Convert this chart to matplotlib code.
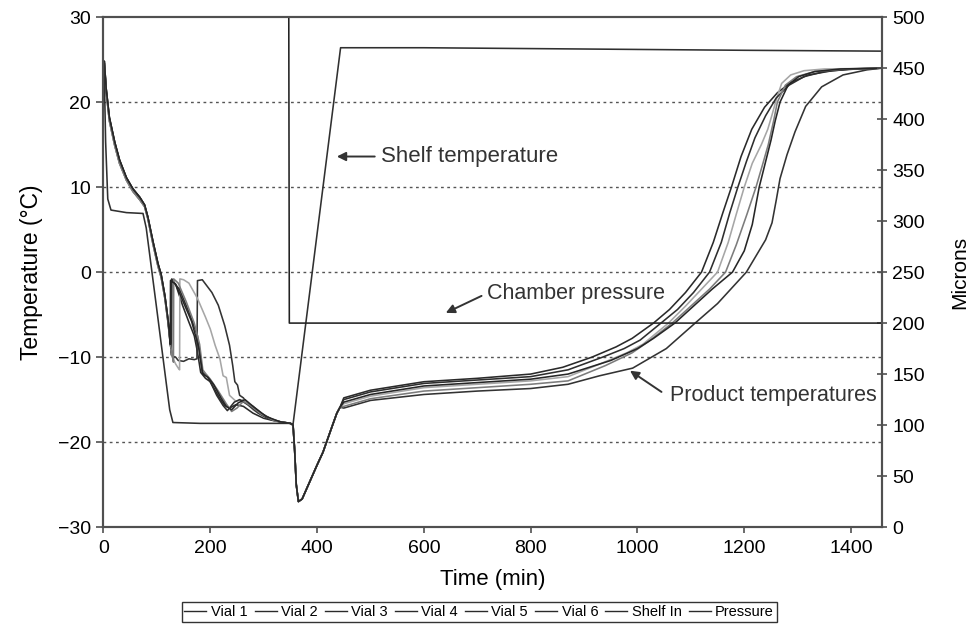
import matplotlib
matplotlib.use('Agg')
import matplotlib.pyplot as plt
import numpy as np

plt.rcParams['font.family'] = ['Liberation Sans', 'DejaVu Sans']

# cooling ramp, same for every vial (two slightly offset bundles)
cool_t = [0, 1.5, 5, 11, 21, 30, 43, 55, 68, 77, 83, 93, 102, 108, 115, 121]
cool_T_a = [23.8, 24.8, 21.6, 18.2, 15.3, 13.2, 11.1, 9.8, 8.8, 7.9, 6.5, 3.5, 1.0, -0.3, -2.8, -5.7]
cool_T_b = [23.6, 24.6, 21.2, 17.8, 14.9, 12.8, 10.8, 9.5, 8.5, 7.7, 6.3, 3.2, 0.7, -0.6, -3.1, -6.0]

# freezing (nucleation) per vial
v1_frz_t = [125, 127.5, 128, 136, 148, 160, 170, 176, 182, 191, 200, 209, 218, 227, 236, 248, 262, 280, 300, 320, 340]
v1_frz_T = [-8.2, -9.8, -0.8, -1.6, -3.9, -5.9, -7.5, -9.4, -11.8, -12.5, -12.9, -13.9, -14.9, -15.7, -16.0, -15.6, -15.8, -16.6, -17.2, -17.5, -17.7]
v2_frz_t = [125, 129, 135, 140, 150, 160, 170, 175, 176, 185, 191, 203, 215, 227, 236, 242, 246, 251, 255, 262, 268, 280, 295, 315, 335]
v2_frz_T = [-8.4, -9.9, -10.0, -10.4, -10.5, -10.2, -10.3, -10.2, -1.0, -0.9, -1.4, -2.4, -3.9, -6.3, -8.6, -11.0, -12.9, -13.3, -14.5, -14.8, -15.4, -15.8, -16.6, -17.3, -17.7]
v3_frz_t = [125, 129, 135, 140, 142.5, 143, 150, 160, 176, 191, 200, 209, 218, 224, 230, 236, 248, 262, 280, 300, 330]
v3_frz_T = [-8.5, -10.0, -10.8, -11.3, -11.5, -0.8, -0.9, -1.3, -3.1, -5.3, -6.7, -8.6, -10.2, -12.2, -12.4, -14.5, -15.2, -15.0, -16.2, -17.0, -17.6]
v4_frz_t = [125, 126.5, 127, 142, 160, 176, 185, 194, 203, 212, 224, 232, 245, 255, 270, 290, 310, 330]
v4_frz_T = [-8.2, -9.0, -0.9, -2.0, -4.7, -7.5, -11.8, -12.2, -13.3, -14.5, -15.7, -16.3, -15.3, -15.0, -15.6, -16.6, -17.3, -17.6]
v5_frz_t = [125, 129, 131, 131.5, 140, 155, 170, 180, 186, 192, 200, 215, 230, 240, 250, 262, 275, 295, 320]
v5_frz_T = [-8.4, -9.9, -10.6, -0.8, -1.3, -3.5, -6.0, -8.5, -11.5, -12.0, -12.6, -14.0, -15.5, -16.4, -16.0, -15.2, -15.7, -16.7, -17.5]
v6_frz_t = [123, 125, 125.5, 135, 150, 165, 178, 186, 196, 206, 220, 230, 240, 252, 265, 282, 305, 330]
v6_frz_T = [-7.0, -8.5, -1.0, -1.4, -3.6, -5.8, -8.8, -12.0, -12.4, -13.2, -14.8, -15.8, -16.2, -15.4, -15.0, -15.9, -17.0, -17.6]

# pressure drop / start of primary drying, same for every vial
warm_t = [350, 355, 358, 361, 365, 372, 386, 400, 411, 420, 429, 437, 443]
warm_T = [-17.8, -18.0, -21.0, -25.0, -27.0, -26.7, -24.7, -22.7, -21.2, -19.6, -18.0, -16.6, -15.9]

# primary / secondary drying per vial
v1_dry_t = [450, 500, 600, 700, 800, 860, 915, 960, 990, 1030, 1060, 1090, 1120, 1142, 1160, 1176, 1194, 1214, 1238, 1262, 1287, 1320, 1365, 1410, 1458]
v1_dry_T = [-14.8, -13.9, -12.9, -12.5, -12.0, -11.2, -10.0, -8.8, -7.8, -6.0, -4.4, -2.4, 0.0, 3.5, 7.0, 10.0, 13.6, 16.8, 19.4, 21.1, 22.3, 23.2, 23.7, 23.9, 24.0]
v2_dry_t = [450, 500, 600, 700, 800, 870, 929, 991, 1054, 1108, 1150, 1204, 1240, 1252, 1260, 1267, 1280, 1295, 1315, 1345, 1385, 1430, 1458]
v2_dry_T = [-16.0, -15.1, -14.4, -14.0, -13.7, -13.2, -12.2, -11.3, -9.0, -6.0, -3.7, 0.0, 3.8, 5.8, 8.5, 11.0, 13.8, 16.5, 19.5, 21.8, 23.2, 23.8, 24.0]
v3_dry_t = [450, 500, 600, 700, 800, 870, 930, 980, 1010, 1058, 1090, 1120, 1150, 1170, 1185, 1200, 1215, 1232, 1244, 1252, 1260, 1270, 1287, 1312, 1350, 1458]
v3_dry_T = [-15.5, -14.6, -13.6, -13.2, -12.8, -12.3, -10.8, -9.5, -8.5, -6.0, -4.0, -2.0, 0.0, 3.5, 6.8, 10.0, 12.8, 15.0, 16.8, 18.5, 20.3, 22.2, 23.2, 23.7, 23.9, 24.0]
v4_dry_t = [450, 500, 600, 700, 800, 870, 935, 975, 1005, 1044, 1075, 1105, 1135, 1157, 1173, 1188, 1204, 1220, 1240, 1260, 1284, 1312, 1350, 1400, 1458]
v4_dry_T = [-15.0, -14.1, -13.1, -12.7, -12.3, -11.5, -10.0, -9.0, -8.0, -6.0, -4.4, -2.4, 0.0, 3.5, 7.0, 10.0, 13.0, 15.8, 18.4, 20.5, 22.0, 23.0, 23.6, 23.9, 24.0]
v5_dry_t = [450, 500, 600, 700, 800, 870, 940, 990, 1020, 1065, 1100, 1135, 1165, 1185, 1205, 1222, 1235, 1245, 1255, 1262, 1277, 1298, 1332, 1390, 1458]
v5_dry_T = [-15.8, -14.9, -14.0, -13.6, -13.2, -12.8, -11.0, -9.5, -8.2, -6.0, -4.0, -2.0, 0.0, 3.2, 6.8, 10.0, 12.8, 15.0, 17.8, 20.0, 22.0, 23.0, 23.6, 23.9, 24.0]
v6_dry_t = [450, 500, 600, 700, 800, 870, 950, 1000, 1030, 1070, 1105, 1140, 1178, 1200, 1215, 1228, 1240, 1250, 1258, 1267, 1282, 1302, 1332, 1380, 1458]
v6_dry_T = [-15.3, -14.4, -13.4, -13.0, -12.6, -12.0, -10.4, -9.0, -7.8, -6.0, -4.0, -2.0, 0.0, 2.5, 5.6, 10.0, 13.0, 15.5, 17.8, 20.0, 22.0, 23.0, 23.6, 23.9, 24.0]

# shelf inlet temperature
shelf_t = [0, 1, 4, 8, 14, 43, 74, 80, 99, 118, 124, 130, 181, 350, 355, 444, 600, 800, 1000, 1200, 1458]
shelf_T = [23.5, 24.7, 15.3, 8.6, 7.3, 7.0, 6.9, 5.2, -4.0, -13.3, -16.2, -17.7, -17.8, -17.8, -17.9, 26.4, 26.4, 26.3, 26.2, 26.1, 26.0]

# chamber pressure (microns), atmospheric before 347 min is off scale
press_t = [0, 346, 348, 1458]
press_P = [800, 800, 200, 200]

vial_names = ['Vial 1', 'Vial 2', 'Vial 3', 'Vial 4', 'Vial 5', 'Vial 6']
vial_colors = ['#2a2a2a', '#333333', '#a6a6a6', '#2e2e2e', '#7c7c7c', '#262626']
vial_cool = [cool_T_a, cool_T_b, cool_T_b, cool_T_a, cool_T_b, cool_T_a]
vial_frz = [(v1_frz_t, v1_frz_T), (v2_frz_t, v2_frz_T), (v3_frz_t, v3_frz_T),
            (v4_frz_t, v4_frz_T), (v5_frz_t, v5_frz_T), (v6_frz_t, v6_frz_T)]
vial_dry = [(v1_dry_t, v1_dry_T), (v2_dry_t, v2_dry_T), (v3_dry_t, v3_dry_T),
            (v4_dry_t, v4_dry_T), (v5_dry_t, v5_dry_T), (v6_dry_t, v6_dry_T)]

fig = plt.figure(figsize=(9.7, 6.35), dpi=100)
ax = fig.add_axes([0.1067, 0.170, 0.8026, 0.803])
ax2 = ax.twinx()

handles = []
for name, col, cT, frz, dry in zip(vial_names, vial_colors, vial_cool, vial_frz, vial_dry):
    t = np.concatenate([cool_t, frz[0], warm_t, dry[0]])
    T = np.concatenate([cT, frz[1], warm_T, dry[1]])
    h, = ax.plot(t, T, color=col, lw=1.15, label=name, zorder=3)
    handles.append(h)

h, = ax.plot(shelf_t, shelf_T, color='#303030', lw=1.15, label='Shelf In', zorder=3)
handles.append(h)
h, = ax2.plot(press_t, press_P, color='#222222', lw=1.15, label='Pressure')
handles.append(h)

ax.set_xlim(0, 1458)
ax.set_ylim(-30, 30)
ax2.set_ylim(0, 500)
ax.set_yticks(range(-30, 31, 10))
ax.set_xticks(range(0, 1401, 200))
ax2.set_yticks(range(0, 501, 50))

for y in [-20, -10, 0, 10, 20]:
    ax.axhline(y, color='#555555', lw=1.0, ls=(0, (2, 2.5)), zorder=1)

for a in (ax, ax2):
    for s in a.spines.values():
        s.set_color('#505050')
        s.set_linewidth(1.5)
ax.tick_params(axis='y', direction='out', length=5, width=1.2, color='#505050', labelsize=14, pad=4)
ax.tick_params(axis='x', direction='out', length=4, width=1.2, color='#505050', labelsize=14, pad=5)
ax2.tick_params(axis='y', direction='inout', length=7, width=1.2, color='#505050', labelsize=14, pad=4)

ax.set_xlabel('Time (min)', fontsize=16, labelpad=9)
ax.set_ylabel('Temperature (°C)', fontsize=16.5, labelpad=11)
ax2.set_ylabel('Microns', fontsize=15, labelpad=18)

arrow = dict(arrowstyle='-|>', color='#333333', lw=1.4, mutation_scale=13, shrinkA=0, shrinkB=0)
ax.annotate('', xy=(437, 13.6), xytext=(508, 13.6), arrowprops=arrow)
ax.text(519, 13.6, 'Shelf temperature', fontsize=16, color='#333333', va='center', ha='left')
ax.annotate('', xy=(641, -4.8), xytext=(708, -2.8), arrowprops=arrow)
ax.text(718, -2.5, 'Chamber pressure', fontsize=15.5, color='#333333', va='center', ha='left')
ax.annotate('', xy=(986, -11.6), xytext=(1045, -14.1), arrowprops=arrow)
ax.text(1061, -14.5, 'Product temperatures', fontsize=15.5, color='#333333', va='center', ha='left')

leg = fig.legend(handles, [h.get_label() for h in handles], loc='center',
                 bbox_to_anchor=(0.494, 0.036), ncol=8, fontsize=10.5,
                 handlelength=1.5, handletextpad=0.3, columnspacing=0.5,
                 borderpad=0.2, fancybox=False, frameon=True)
leg.get_frame().set_edgecolor('black')
leg.get_frame().set_linewidth(1.0)
for lh in leg.get_lines():
    lh.set_color('#2a2a2a')
    lh.set_linewidth(1.0)

fig.savefig('out.png', dpi=100)
